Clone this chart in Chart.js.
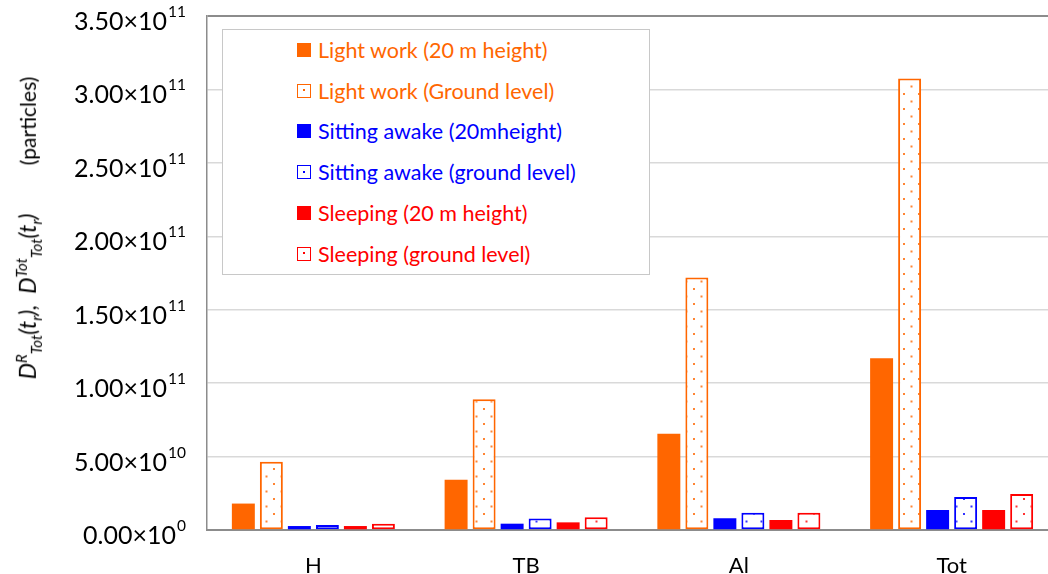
<!DOCTYPE html>
<html>
<head>
<meta charset="utf-8">
<script src="https://cdn.jsdelivr.net/npm/chart.js@4.4.1/dist/chart.umd.min.js"></script>
<style>
  html, body { margin: 0; padding: 0; background: #fff; overflow: hidden; }
  #wrap { position: relative; width: 1048px; height: 574px; overflow: hidden; }
  #c { position: absolute; left: 0; top: 0; }
  #ytitle {
    position: absolute; left: 28px; top: 228px;
    transform: translate(-50%, -50%) rotate(-90deg);
    white-space: nowrap; font-family: Lato, sans-serif; font-size: 21px; color: #000;
  }
  #ytitle i { font-size: 23px; }
  #ytitle i sub, #ytitle i sup { font-size: 15px; }
  #legend {
    position: absolute; left: 222px; top: 29px; width: 428px; height: 246px;
    border: 1.5px solid #c8c8c8; box-sizing: border-box; background: #fff;
    font-family: Lato, sans-serif; font-size: 21.5px;
  }
  .item { position: absolute; left: 74px; height: 24px; display: flex; align-items: center; white-space: nowrap; }
  .mk { width: 14px; height: 14px; box-sizing: border-box; margin-right: 7px; position: relative; }
  .mk.open { background: #fff; border: 1.5px solid; }
  .mk.open::after { content: ''; position: absolute; left: 4.5px; top: 4.5px; width: 2px; height: 2px; background: currentColor; }
</style>
</head>
<body>
<div id="wrap">
  <canvas id="c" width="1065" height="574"></canvas>
  <div id="ytitle"><i>D<sup>R</sup><sub>Tot</sub>(t<sub>r</sub>),</i>&nbsp;&nbsp;<i>D<sup>Tot</sup><sub>Tot</sub>(t<sub>r</sub>)</i>&nbsp;&nbsp;&nbsp;&nbsp;&nbsp;&nbsp;&nbsp;&nbsp;&nbsp;(particles)</div>
  <div id="legend"></div>
</div>
<script>
const categories = ['H', 'TB', 'Al', 'Tot'];
const seriesNames = [
  'Light work (20 m height)',
  'Light work (Ground level)',
  'Sitting awake (20mheight)',
  'Sitting awake (ground level)',
  'Sleeping (20 m height)',
  'Sleeping (ground level)'
];
const lightWork20m       = [1.8e10, 3.43e10, 6.56e10, 1.17e11];
const lightWorkGround    = [4.65e10, 8.9e10, 1.72e11, 3.075e11];
const sittingAwake20m    = [2.7e9, 4.3e9, 8.0e9, 1.36e10];
const sittingAwakeGround = [3.4e9, 7.8e9, 1.18e10, 2.24e10];
const sleeping20m        = [2.7e9, 5.2e9, 6.8e9, 1.36e10];
const sleepingGround     = [4.3e9, 8.6e9, 1.18e10, 2.45e10];
const yTicks = [0, 5e10, 1e11, 1.5e11, 2e11, 2.5e11, 3e11, 3.5e11];
const seriesColors = ['#FF6600', '#FF6600', '#0000FF', '#0000FF', '#FF0000', '#FF0000'];
const seriesOpen = [false, true, false, true, false, true];
</script>
<script>
const seriesData = [lightWork20m, lightWorkGround, sittingAwake20m, sittingAwakeGround, sleeping20m, sleepingGround];

function dotPattern(color) {
  const p = document.createElement('canvas');
  p.width = 15; p.height = 15;
  const g = p.getContext('2d');
  g.fillStyle = '#fff'; g.fillRect(0, 0, 15, 15);
  g.fillStyle = color; g.globalAlpha = 0.8;
  g.fillRect(3, 3, 2, 2);
  g.fillRect(10.5, 10.5, 2, 2);
  return g.createPattern(p, 'repeat');
}

function sciParts(v) {
  if (v === 0) return ['0.00×10', '0'];
  const e = Math.floor(Math.log10(v) + 1e-9);
  const m = v / Math.pow(10, e);
  return [m.toFixed(2) + '×10', String(e)];
}

// Draws y tick labels as mantissa + raised exponent, positioned by the y scale.
const sciTickPlugin = {
  id: 'sciTicks',
  afterDraw(chart) {
    const y = chart.scales.y;
    const ctx = chart.ctx;
    ctx.save();
    ctx.fillStyle = '#000';
    ctx.textBaseline = 'alphabetic';
    y.ticks.forEach(t => {
      const py = y.getPixelForValue(t.value);
      const [base, exp] = sciParts(t.value);
      ctx.font = '15.5px Lato';
      const ew = ctx.measureText(exp).width;
      const right = 186;
      ctx.textAlign = 'left';
      ctx.fillText(exp, right - ew, py + 1);
      ctx.font = '25px Lato';
      ctx.textAlign = 'right';
      ctx.fillText(base, right - ew - 1, py + 14);
    });
    ctx.restore();
  }
};

const datasets = seriesNames.map((name, i) => ({
  label: name,
  data: seriesData[i],
  backgroundColor: seriesOpen[i] ? dotPattern(seriesColors[i]) : seriesColors[i],
  borderColor: seriesColors[i],
  borderWidth: seriesOpen[i] ? 2 : 0,
  borderSkipped: false,
  barPercentage: 0.82,
  categoryPercentage: 0.79
}));

new Chart(document.getElementById('c'), {
  type: 'bar',
  data: { labels: categories, datasets },
  plugins: [sciTickPlugin],
  options: {
    responsive: false,
    animation: false,
    devicePixelRatio: 1,
    layout: { padding: { left: 0, right: 7, top: 16, bottom: 0 } },
    plugins: { legend: { display: false }, tooltip: { enabled: false } },
    scales: {
      x: {
        grid: { display: false },
        border: { display: true, color: '#8c8c8c', width: 2 },
        ticks: { color: '#000', font: { family: 'Lato', size: 22 }, padding: 15 },
        afterFit: s => { s.height = 44; s.paddingLeft = 0; s.paddingRight = 0; }
      },
      y: {
        min: 0, max: 3.5e11,
        afterBuildTicks: s => { s.ticks = yTicks.map(v => ({ value: v })); },
        grid: {
          drawTicks: false,
          color: ctx => (ctx.tick && ctx.tick.value === 3.5e11) ? '#8c8c8c' : '#d9d9d9',
          lineWidth: ctx => (ctx.tick && ctx.tick.value === 3.5e11) ? 2 : 1.5
        },
        border: { display: true, color: '#8c8c8c', width: 1.5 },
        ticks: { display: false },
        afterFit: s => { s.width = 207; s.paddingTop = 0; s.paddingBottom = 0; }
      }
    }
  }
});

const leg = document.getElementById('legend');
seriesNames.forEach((name, i) => {
  const it = document.createElement('div');
  it.className = 'item';
  it.style.top = (8 + i * 40.7) + 'px';
  it.style.color = seriesColors[i];
  const mk = document.createElement('span');
  mk.className = 'mk' + (seriesOpen[i] ? ' open' : '');
  if (seriesOpen[i]) { mk.style.borderColor = seriesColors[i]; } else { mk.style.background = seriesColors[i]; }
  const tx = document.createElement('span');
  tx.textContent = name;
  it.appendChild(mk); it.appendChild(tx);
  leg.appendChild(it);
});
</script>
</body>
</html>
